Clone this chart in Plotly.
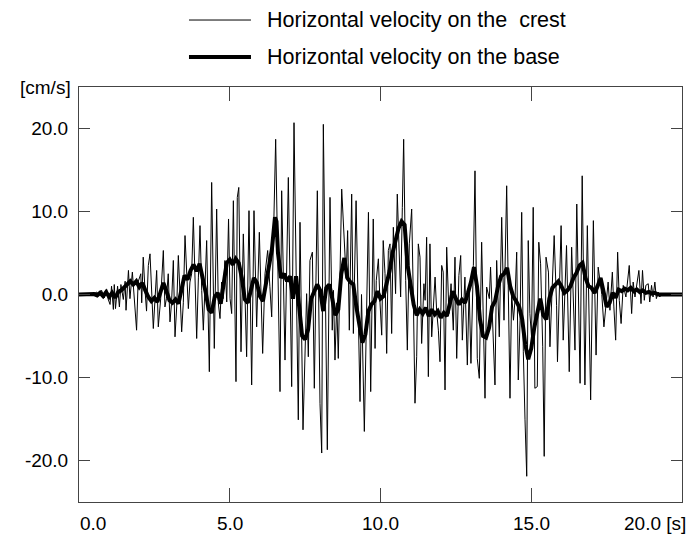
import plotly.graph_objects as go

# ---- data ----
time_crest = [0.0, 0.1, 0.2, 0.3, 0.4, 0.5, 0.59, 0.64, 0.7, 0.75, 0.84, 0.92, 0.97, 1.03, 1.08, 1.14, 1.17, 1.21,
              1.28, 1.34, 1.39, 1.47, 1.53, 1.56, 1.64, 1.69, 1.77, 1.83, 1.91, 1.96, 2.05, 2.08, 2.13, 2.19, 2.24,
              2.30, 2.355, 2.465, 2.576, 2.63, 2.71, 2.797, 2.85, 2.90, 2.96, 3.018, 3.07, 3.129, 3.184, 3.24,
              3.295, 3.405, 3.46, 3.516, 3.57, 3.627, 3.68, 3.737, 3.792, 3.85, 3.903, 3.96, 4.013, 4.07, 4.124,
              4.18, 4.234, 4.323, 4.40, 4.488, 4.566, 4.62, 4.677, 4.73, 4.78, 4.84, 4.90, 4.96, 5.01, 5.064,
              5.12, 5.207, 5.25, 5.30, 5.373, 5.45, 5.56, 5.638, 5.727, 5.804, 5.893, 5.981, 6.092, 6.169, 6.258,
              6.33, 6.391, 6.523, 6.61, 6.667, 6.722, 6.833, 6.943, 7.054, 7.131, 7.22, 7.274, 7.33, 7.385, 7.43,
              7.55, 7.606, 7.66, 7.74, 7.805, 7.905, 7.993, 8.05, 8.104, 8.18, 8.236, 8.325, 8.40, 8.44, 8.49,
              8.55, 8.60, 8.713, 8.79, 8.86, 8.91, 8.966, 9.044, 9.10, 9.19, 9.265, 9.32, 9.37, 9.464, 9.60,
              9.675, 9.76, 9.82, 9.86, 9.93, 9.98, 10.04, 10.09, 10.15, 10.205, 10.26, 10.315, 10.37, 10.426,
              10.50, 10.557, 10.61, 10.668, 10.724, 10.768, 10.835, 10.89, 10.956, 11.034, 11.09, 11.144, 11.2,
              11.254, 11.31, 11.365, 11.44, 11.48, 11.53, 11.587, 11.64, 11.698, 11.81, 11.864, 11.92, 11.973,
              12.03, 12.08, 12.14, 12.195, 12.27, 12.34, 12.415, 12.47, 12.527, 12.60, 12.66, 12.714, 12.80,
              12.88, 12.94, 13.0, 13.08, 13.134, 13.21, 13.277, 13.355, 13.41, 13.466, 13.52, 13.61, 13.65,
              13.72, 13.797, 13.853, 13.94, 14.02, 14.096, 14.185, 14.24, 14.295, 14.35, 14.41, 14.46, 14.517,
              14.57, 14.63, 14.683, 14.737, 14.793, 14.85, 14.90, 14.954, 15.01, 15.065, 15.12, 15.20, 15.25,
              15.31, 15.38, 15.43, 15.49, 15.57, 15.62, 15.71, 15.76, 15.84, 15.87, 15.99, 16.06, 16.17, 16.26,
              16.34, 16.45, 16.51, 16.62, 16.69, 16.78, 16.86, 16.97, 17.06, 17.15, 17.22, 17.28, 17.34, 17.41,
              17.50, 17.55, 17.61, 17.69, 17.74, 17.80, 17.865, 17.92, 17.98, 18.05, 18.14, 18.25, 18.33, 18.38,
              18.44, 18.49, 18.57, 18.64, 18.69, 18.75, 18.80, 18.88, 18.93, 18.99, 19.04, 19.10, 19.15, 19.21,
              19.26, 19.35, 19.45, 19.55, 19.7, 19.85, 20.0]
vel_crest = [0, 0.02, 0.05, -0.03, -0.05, 0.1, 0.3, -0.2, 0.2, 0.5, -0.4, 0.6, -0.6, -1.2, 1.0, -1.8, 1.2, -1.7,
             1.0, -1.5, 1.2, -0.6, 1.6, -1.9, 2.9, -0.5, 2.7, -0.8, -4.3, 1.5, 2.5, -1.0, 4.5, 0.5, -2.0,
             3.5, 4.9, -4.1, 2.9, -3.9, -0.5, 5.3, -1.5, -0.5, 2.5, -3.3, -1.0, 4.1, -5.1, -1.5,
             4.7, -4.5, -1.0, 7.1, 2.0, -1.7, 1.5, 2.5, 9.3, 1.5, -5.3, 2.0, 8.3, 0.5, -4.3,
             1.0, 6.5, -9.3, 13.5, -6.5, 10.3, -1.0, -2.9, 1.5, -0.5, 4.1, -0.9, 9.1, -0.5, -2.3,
             11.3, -10.5, 11.7, 12.9, -6.9, 7.3, -7.5, 10.1, -10.9, 10.1, -3.9, 7.5, -7.1, 2.5, 5.3,
             1.0, -2.7, 18.7, -1.5, -11.7, 12.5, -7.9, 14.1, -11.1, 20.7, -4.9, -15.1, 8.7, -5.5, -16.3,
             0.1, -7.5, 4.1, 5.1, -11.3, 12.5, -13.1, -19.1, 20.5, -2.0, -18.7, 11.7, -4.3, 0.5, -7.9,
             -1.0, -7.7, 12.7, 7.3, 2.0, 7.7, -4.3, 12.1, -4.7, 11.3, -4.7, -12.9, 0.0, -16.5, 9.9,
             -11.7, 9.1, -6.5, 1.7, 4.3, -0.7, -4.9, 6.5, 2.5, -7.1, 5.3, 6.1, -4.7, 8.1,
             0.1, 12.1, 6.5, -0.3, 10.5, 18.7, 1.7, -6.7, 6.1, 10.3, -0.7, -13.1, -7.5,
             6.1, 4.5, -5.9, 1.3, -0.7, 6.9, -9.9, 6.1, -5.1, 2.1, -2.1, -4.3, -8.1,
             3.5, 2.7, -11.5, 5.7, -2.3, 1.3, -4.3, 4.5, -7.7, 2.3, 4.7, -5.5, 2.1,
             -8.5, 0.9, -8.3, 3.5, 14.9, -7.7, -10.1, 6.3, -2.3, -12.5, 0.9, -0.5, 3.3,
             -4.3, -10.9, 4.1, -5.1, 9.3, -3.1, 13.1, 1.7, -12.5, 0.1, -3.1, -0.7, 5.1,
             -10.3, -3.1, 9.9, -6.9, -15.1, -21.9, 6.5, -2.3, -5.1, 10.5, -11.3, -11.1, 6.3,
             3.7, -6.3, -19.5, 4.5, 2.7, -6.3, 1.1, 7.1, -1.3, -8.1, 8.3, -5.5, 5.9, -9.3,
             5.7, -6.7, 10.9, -10.7, 14.3, -10.9, 8.3, -12.7, 8.9, -7.3, 3.3, 1.5, 0.0, -3.9,
             -0.1, 1.5, -1.9, 2.7, -1.5, -5.5, 5.1, -0.7, -3.5, 1.1, -0.3, 3.5, -2.3, 1.5,
             -0.3, 1.1, 2.9, -1.1, 2.9, -0.7, 1.1, 1.3, -0.9, 1.1, -0.3, 1.5, -0.5, 0.3,
             -0.3, 0.1, -0.1, 0.05, -0.05, 0.03, 0]

time_base = [0.0, 0.3, 0.5, 0.6, 0.7, 0.8, 0.9, 1.0, 1.1, 1.2, 1.3, 1.4, 1.5, 1.6, 1.7, 1.8, 1.9, 2.0, 2.1, 2.2,
             2.3, 2.4, 2.5, 2.6, 2.7, 2.8, 2.9, 3.0, 3.1, 3.2, 3.3, 3.4, 3.5, 3.6, 3.7, 3.8, 3.9, 4.0, 4.1, 4.2,
             4.3, 4.4, 4.5, 4.6, 4.7, 4.8, 4.9, 5.0, 5.1, 5.2, 5.3, 5.4, 5.5, 5.6, 5.7, 5.8, 5.9, 6.0, 6.1, 6.2,
             6.3, 6.4, 6.5, 6.55, 6.6, 6.7, 6.8, 6.9, 7.0, 7.1, 7.2, 7.3, 7.4, 7.5, 7.6, 7.7, 7.8, 7.9, 8.0,
             8.1, 8.2, 8.3, 8.4, 8.5, 8.6, 8.7, 8.8, 8.9, 9.0, 9.1, 9.2, 9.3, 9.4, 9.5, 9.6, 9.7, 9.8, 9.9,
             10.0, 10.1, 10.2, 10.3, 10.4, 10.5, 10.6, 10.7, 10.8, 10.9, 11.0, 11.1, 11.2, 11.3, 11.4, 11.5,
             11.6, 11.7, 11.8, 11.9, 12.0, 12.1, 12.2, 12.3, 12.4, 12.5, 12.6, 12.7, 12.8, 12.9, 13.0, 13.1,
             13.2, 13.3, 13.4, 13.5, 13.6, 13.7, 13.8, 13.9, 14.0, 14.1, 14.2, 14.3, 14.4, 14.5, 14.6, 14.7,
             14.8, 14.9, 15.0, 15.1, 15.2, 15.3, 15.4, 15.5, 15.6, 15.7, 15.8, 15.9, 16.0, 16.1, 16.2, 16.3,
             16.4, 16.5, 16.6, 16.7, 16.8, 16.9, 17.0, 17.1, 17.2, 17.3, 17.4, 17.5, 17.6, 17.7, 17.8, 17.9,
             18.0, 18.1, 18.2, 18.3, 18.4, 18.5, 18.6, 18.7, 18.8, 18.9, 19.0, 19.1, 19.2, 19.4, 19.6, 20.0]
vel_base = [0, 0.0, 0.05, -0.1, 0.2, -0.2, 0.3, -0.3, 0.2, -0.4, 0.3, 0.5, 0.9, 1.3, 1.6, 1.2, 1.6, 0.9, 1.4, 0.5,
            -0.3, -0.8, -0.4, -0.9, 0.3, 1.4, 0.4, -0.7, -1.0, -0.6, -1.1, 0.8, 2.3, 1.8, 2.9, 3.6, 2.8, 3.7, 2.2, 0.3,
            -1.8, -2.2, -0.3, 0.2, -1.1, 1.5, 3.8, 4.2, 3.6, 4.3, 3.8, 2.0, -0.6, -1.0, 0.4, 2.0, 1.4, -0.2, -0.8, 1.1,
            3.0, 5.5, 9.3, 8.8, 5.0, 2.0, 2.5, 1.6, 2.2, -0.5, 2.2, -1.5, -5.0, -5.4, -4.2, -0.5, 0.3, 1.2, 0.5,
            -2.0, 0.8, 1.2, -0.5, -2.5, -1.8, 2.5, 4.4, 2.0, 1.5, 1.2, -1.5, -4.0, -5.8, -4.8, -2.0, -1.2, -0.8, 0.4,
            -0.5, -0.2, 1.2, 2.8, 5.0, 6.5, 8.0, 8.8, 8.4, 3.5, 0.8, -1.2, -2.5, -1.8, -2.3, -1.6,
            -2.6, -1.8, -2.4, -2.0, -2.8, -2.2, -2.6, -1.0, 0.4, -0.5, -1.2, -0.6, -1.0, 0.2, 1.5, 3.3,
            1.0, -3.0, -5.0, -5.2, -4.0, -1.5, -0.8, 1.0, 2.2, 2.5, 3.2, 1.0, -0.2, -0.8, -1.5, -3.0,
            -6.0, -7.8, -6.5, -4.0, -2.5, -0.5, -2.5, -3.0, -0.5, 0.8, 1.2, 1.6, 1.0, 0.2, 0.5, 1.0,
            2.0, 2.6, 3.5, 3.8, 2.0, 1.0, 0.8, 0.2, 1.0, 2.0, 0.3, -1.5, -1.0, 0.2, -0.4, 0.6,
            0.4, 0.7, 0.5, 0.8, 0.4, 0.6, 0.3, 0.5, 0.2, 0.3, 0.1, 0.2, 0.0, 0.05, 0.0, 0.0]

y_tick_values = [-20, -10, 0, 10, 20]
y_tick_labels = ["-20.0", "-10.0", "0.0", "10.0", "20.0"]
x_tick_values = [5, 10, 15]
x_label_positions = [0.45, 5, 10, 15]
x_label_texts = ["0.0", "5.0", "10.0", "15.0"]
legend_names = ["Horizontal velocity on the  crest", "Horizontal velocity on the base"]

FONT = "Liberation Sans, Arial, sans-serif"
FS = 19
FS_LEG = 21.5

fig = go.Figure()
fig.add_trace(go.Scatter(x=time_crest, y=vel_crest, mode="lines",
                         line=dict(color="black", width=1), name=legend_names[0], showlegend=False))
fig.add_trace(go.Scatter(x=time_base, y=vel_base, mode="lines",
                         line=dict(color="black", width=4), name=legend_names[1], showlegend=False))

fig.update_layout(
    width=691, height=544,
    margin=dict(l=79, r=9, t=87, b=42),
    paper_bgcolor="white", plot_bgcolor="white",
    font=dict(family=FONT, size=FS, color="black"),
    showlegend=False,
)
fig.update_xaxes(range=[0, 20], showgrid=False, zeroline=False, showline=True, linecolor="#444",
                 linewidth=1, mirror="ticks", ticks="inside", ticklen=14, tickcolor="#444",
                 tickvals=x_tick_values, showticklabels=False)
fig.update_yaxes(range=[-25, 25], showgrid=False, zeroline=False, showline=True, linecolor="#444",
                 linewidth=1, mirror="ticks", ticks="inside", ticklen=11, tickcolor="#444",
                 tickvals=y_tick_values, ticktext=y_tick_labels, ticklabelstandoff=6,
                 tickfont=dict(family=FONT, size=FS, color="black"))

# x tick labels
for xv, tx in zip(x_label_positions, x_label_texts):
    fig.add_annotation(x=xv, y=-0.053, xref="x", yref="paper", text=tx, showarrow=False,
                       xanchor="center", yanchor="middle", font=dict(family=FONT, size=FS, color="black"))
fig.add_annotation(x=1.01, y=-0.053, xref="paper", yref="paper", text="20.0 [s]", showarrow=False,
                   xanchor="right", yanchor="middle", font=dict(family=FONT, size=FS, color="black"))
# unit label
fig.add_annotation(x=-0.01, y=1.0, xref="paper", yref="paper", text="[cm/s]", showarrow=False,
                   xanchor="right", yanchor="middle", font=dict(family=FONT, size=FS, color="black"))

# legend drawn manually
for yy, w, name in [(1.1614, 1, legend_names[0]), (1.0723, 4, legend_names[1])]:
    fig.add_shape(type="line", xref="paper", yref="paper", x0=0.1824, x1=0.2852, y0=yy, y1=yy,
                  line=dict(color="black", width=w))
    fig.add_annotation(x=0.3085, y=yy, xref="paper", yref="paper", text=name.replace("  ", "&nbsp; "),
                       showarrow=False, xanchor="left", yanchor="middle",
                       font=dict(family=FONT, size=FS_LEG, color="black"))

fig.write_html("out.html")
